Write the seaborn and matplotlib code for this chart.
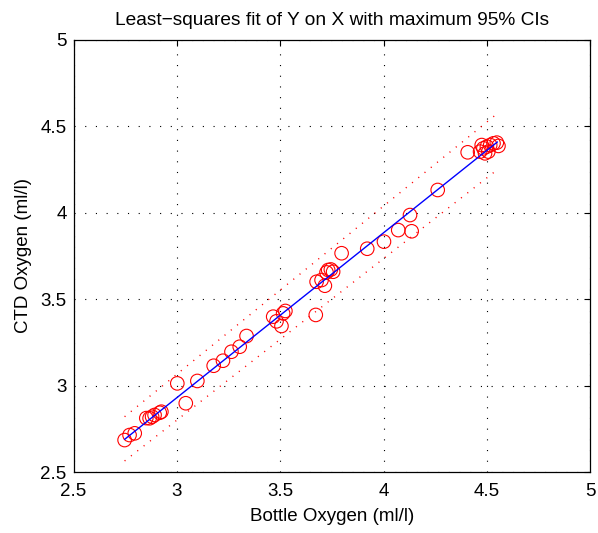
import matplotlib
matplotlib.use("Agg")
import matplotlib.pyplot as plt
import numpy as np
import pandas as pd
import seaborn as sns
from matplotlib.ticker import FormatStrFormatter

# bottle vs CTD oxygen (ml/l)
bottle_oxygen = [
    2.747, 2.771, 2.796, 2.852, 2.868, 2.880, 2.892, 2.917, 2.925,
    3.002, 3.043, 3.099, 3.178, 3.223, 3.264, 3.304, 3.337,
    3.466, 3.482, 3.506, 3.514, 3.525,
    3.672, 3.676, 3.700, 3.716, 3.724, 3.732, 3.745, 3.756,
    3.797, 3.921, 4.002, 4.071, 4.128, 4.136, 4.262, 4.407,
    4.467, 4.475, 4.483, 4.491, 4.500, 4.507, 4.516, 4.532, 4.548, 4.556,
]
ctd_oxygen = [
    2.685, 2.714, 2.724, 2.812, 2.811, 2.820, 2.830, 2.843, 2.849,
    3.013, 2.898, 3.027, 3.115, 3.144, 3.196, 3.225, 3.287,
    3.399, 3.372, 3.345, 3.418, 3.432,
    3.409, 3.601, 3.611, 3.578, 3.655, 3.669, 3.672, 3.659,
    3.766, 3.792, 3.833, 3.900, 3.987, 3.893, 4.132, 4.350,
    4.354, 4.392, 4.373, 4.344, 4.383, 4.354, 4.392, 4.402, 4.406, 4.387,
]

# fitted line and the outer 95% confidence lines (end points)
fit_x = [2.747, 4.551]
fit_y = [2.689, 4.410]
ci_upper_y = [2.820, 4.575]
ci_lower_y = [2.564, 4.250]

ticks = [2.5, 3.0, 3.5, 4.0, 4.5, 5.0]

sns.set_theme(style="white")
plt.rcParams["font.family"] = ["Liberation Sans", "DejaVu Sans"]
plt.rcParams["lines.scale_dashes"] = False
plt.rcParams["text.color"] = "black"
plt.rcParams["axes.labelcolor"] = "black"

fig = plt.figure(figsize=(5.98, 5.33), dpi=100)
ax = fig.add_axes([0.123, 0.1144, 0.864, 0.8106])

pts = pd.DataFrame({"bottle": bottle_oxygen, "ctd": ctd_oxygen})
sns.scatterplot(
    data=pts, x="bottle", y="ctd", ax=ax, marker="o", s=95,
    facecolor="none", edgecolor="red", linewidth=0.8, zorder=3,
)

sns.lineplot(x=fit_x, y=fit_y, ax=ax, color="blue", linewidth=1.0,
             estimator=None, sort=False, zorder=4)
for ci in (ci_upper_y, ci_lower_y):
    ax.plot(fit_x, ci, color="red", linewidth=1.0,
            linestyle=(0, (0.8, 5.0)), zorder=2)

ax.set_xlim(2.5, 5)
ax.set_ylim(2.5, 5)
ax.set_xticks(ticks)
ax.set_yticks(ticks)
ax.xaxis.set_major_formatter(FormatStrFormatter("%g"))
ax.yaxis.set_major_formatter(FormatStrFormatter("%g"))
ax.grid(True, color="black", linewidth=0.8, linestyle=(0, (0.8, 6.9)))
ax.tick_params(direction="in", length=4, width=0.8, top=True, right=True,
               labelsize=13.5, colors="black")
ax.tick_params(axis="x", pad=8)
ax.tick_params(axis="y", pad=5)
for sp in ax.spines.values():
    sp.set_color("black")
    sp.set_linewidth(0.9)

ax.set_title("Least\u2212squares fit of Y on X with maximum 95% CIs",
             fontsize=13.8, pad=11, color="black")
ax.set_xlabel("Bottle Oxygen (ml/l)", fontsize=13.5, labelpad=6)
ax.set_ylabel("CTD Oxygen (ml/l)", fontsize=13.5, labelpad=6)

fig.savefig("out.png", dpi=100)
